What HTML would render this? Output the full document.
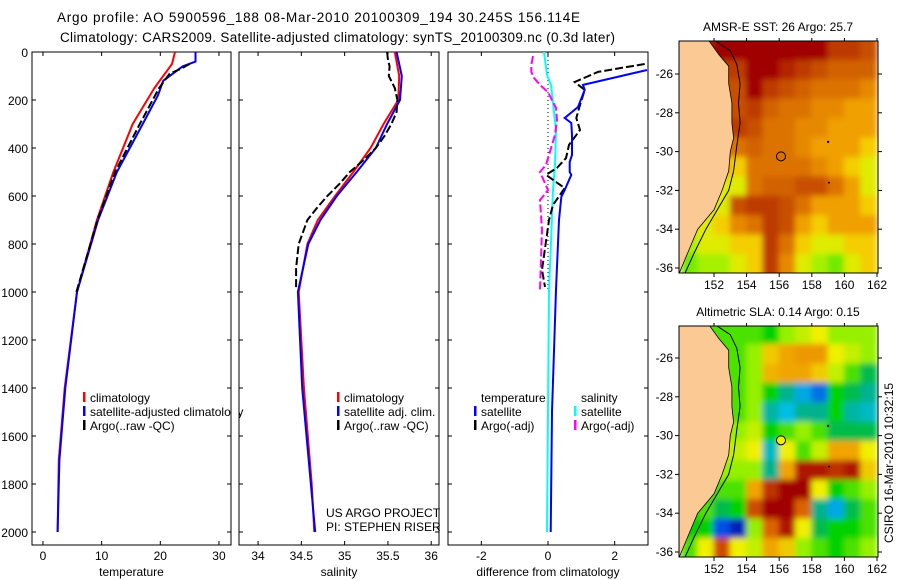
<!DOCTYPE html>
<html><head><meta charset="utf-8"><style>
html,body{margin:0;padding:0;background:#fff;}
svg{display:block;font-family:"Liberation Sans",sans-serif;}
</style></head><body>
<svg id="fig" width="900" height="580" viewBox="0 0 900 580" xmlns="http://www.w3.org/2000/svg">
<defs>
<filter id="blur" x="-5%" y="-5%" width="110%" height="110%"><feGaussianBlur stdDeviation="3"/></filter>
<clipPath id="clipM1"><rect x="679" y="41" width="199" height="232"/></clipPath>
<clipPath id="clipM2"><rect x="679" y="326" width="199" height="231"/></clipPath>
<clipPath id="clipP1"><rect x="32" y="52" width="199" height="493"/></clipPath>
<clipPath id="clipP2"><rect x="239" y="52" width="200" height="493"/></clipPath>
<clipPath id="clipP3"><rect x="448" y="52" width="200" height="493"/></clipPath>
</defs>
<text x="57" y="22" font-size="13.5" textLength="523">Argo profile: AO 5900596_188 08-Mar-2010 20100309_194 30.245S 156.114E</text>
<text x="60" y="42" font-size="13.5" textLength="555">Climatology: CARS2009. Satellite-adjusted climatology: synTS_20100309.nc (0.3d later)</text>
<g id="root"></g>
</svg>
<script>
// ---------- profile data ----------
const tempClimDepth = [0,50,150,300,500,700,1000,1400,1700,2000];
const tempClimVal   = [22.5,22,19,15.3,12,9.2,5.8,3.7,2.7,2.5];
const tempSatDepth  = [0,40,60,120,180,300,500,700,1000,1400,1700,2000];
const tempSatVal    = [26,26,23.8,20.5,19.6,17,12.6,9.4,5.8,3.8,2.8,2.5];
const tempArgoDepth = [50,70,90,150,300,500,700,1000];
const tempArgoVal   = [25,23.5,21.6,19.8,16.5,12.3,9.3,5.7];

const salClimDepth = [0,100,200,300,400,500,600,700,800,1000,1400,1800,2000];
const salClimVal   = [35.58,35.63,35.62,35.45,35.3,35.1,34.89,34.69,34.57,34.47,34.53,34.62,34.65];
const salSatDepth  = [0,100,200,300,400,500,600,700,800,1000,1400,2000];
const salSatVal    = [35.6,35.66,35.64,35.49,35.36,35.14,34.91,34.72,34.58,34.46,34.51,34.66];
const salArgoDepth = [0,30,60,100,150,200,250,300,350,400,450,500,550,600,650,700,800,900,990];
const salArgoVal   = [35.49,35.5,35.52,35.51,35.58,35.61,35.6,35.54,35.46,35.36,35.22,35.06,34.94,34.8,34.68,34.57,34.47,34.44,34.44];

const dTempSatDepth = [75,137,158,229,275,296,346,429,458,500,512,575,604,700,990,1500,2000];
const dTempSatVal   = [2.97,1.05,1.1,0.9,0.5,0.7,0.72,0.72,0.65,0.65,0.7,0.5,0.4,0.33,0.24,0.12,0.08];
const dTempArgoDepth = [50,83,125,158,221,275,325,387,442,483,512,567,637,700,908,979];
const dTempArgoVal   = [2.9,1.5,0.8,1.1,0.96,0.85,0.96,0.63,0.54,0.27,-0.06,0.5,0.15,0.03,-0.18,-0.09];
const dSalSatDepth = [0,96,137,325,470,575,825,990,1500,2000];
const dSalSatVal   = [-0.12,-0.03,0.09,0.24,0.21,0.15,0.08,0.03,0.0,-0.03];
const dSalArgoDepth = [17,54,83,108,137,167,233,283,346,470,500,575,617,742,990];
const dSalArgoVal   = [-0.45,-0.5,-0.5,-0.42,-0.24,0,0.24,0.27,0.21,-0.06,-0.24,0,-0.24,-0.18,-0.24];

const depthTicks = [0,200,400,600,800,1000,1200,1400,1600,1800,2000];
const tempTicks = [0,10,20,30];
const salTicks = [34,34.5,35,35.5,36];
const diffTicks = [-2,0,2];

// ---------- map data (rows: lat -24.8 .. -35.8, cols: lon 150.5 .. 161.5) ----------
const mapLons = [150.5,151.5,152.5,153.5,154.5,155.5,156.5,157.5,158.5,159.5,160.5,161.5];
const mapLats = [-24.8,-25.8,-26.8,-27.8,-28.8,-29.8,-30.8,-31.8,-32.8,-33.8,-34.8,-35.8];
const sstGrid = [
 [0.9,0.9,1,1,1,1,1,1,1,0.85,0.85,0.8],
 [0.85,0.85,0.85,0.85,1,1,0.9,0.85,0.8,0.75,0.75,0.75],
 [0.8,0.8,0.8,0.8,1,0.85,0.8,0.75,0.7,0.7,0.7,0.65],
 [0.8,0.8,0.8,0.8,0.85,0.75,0.7,0.7,0.65,0.65,0.6,0.6],
 [0.85,0.85,0.85,0.85,0.8,0.7,0.7,0.65,0.65,0.6,0.6,0.6],
 [0.7,0.7,0.7,0.7,0.75,0.7,0.7,0.65,0.6,0.6,0.6,0.55],
 [0.6,0.6,0.6,0.55,0.7,0.7,0.7,0.7,0.65,0.6,0.55,0.5],
 [0.5,0.5,0.5,0.5,0.7,0.75,0.75,0.8,0.8,0.7,0.6,0.5],
 [0.5,0.5,0.5,0.8,0.85,0.85,0.8,0.7,0.6,0.6,0.6,0.55],
 [0.5,0.5,0.55,0.65,0.7,0.85,0.8,0.6,0.55,0.6,0.6,0.6],
 [0.45,0.5,0.5,0.55,0.55,0.85,0.7,0.55,0.5,0.5,0.55,0.55],
 [0.42,0.45,0.45,0.5,0.55,0.85,0.65,0.5,0.45,0.42,0.5,0.55]
];
const slaGrid = [
 [0.45,0.45,0.45,0.45,0.45,0.4,0.5,0.55,0.6,0.5,0.5,0.5],
 [0.45,0.45,0.45,0.45,0.5,0.65,0.7,0.72,0.72,0.6,0.55,0.5],
 [0.45,0.45,0.45,0.45,0.5,0.68,0.7,0.7,0.65,0.55,0.45,0.35],
 [0.45,0.45,0.45,0.45,0.5,0.4,0.3,0.2,0.15,0.4,0.35,0.3],
 [0.45,0.45,0.45,0.45,0.5,0.28,0.22,0.3,0.3,0.4,0.28,0.25],
 [0.5,0.5,0.5,0.5,0.55,0.4,0.45,0.5,0.45,0.35,0.35,0.35],
 [0.55,0.55,0.55,0.55,0.6,0.25,0.6,0.45,0.55,0.7,0.7,0.6],
 [0.5,0.5,0.5,0.5,0.5,0.3,0.7,0.95,0.95,0.9,0.95,0.65],
 [0.45,0.45,0.45,0.45,0.7,0.9,1,1,0.6,0.4,0.45,0.5],
 [0.4,0.45,0.35,0.4,0.85,1,1,0.8,0.3,0.2,0.35,0.45],
 [0.4,0.4,0.12,0.05,0.5,0.8,0.95,0.6,0.35,0.4,0.4,0.45],
 [0.45,0.6,0.85,0.6,0.55,0.7,0.65,0.5,0.45,0.4,0.45,0.5]
];
const coastLon = [149.5,151.7,152.3,152.9,152.9,153.1,153.1,153.2,153.0,152.9,152.5,152.0,151.3,151.0,150.5,150.0,149.85,149.5];
const coastLat = [-24.3,-24.3,-25,-25.6,-26.5,-27.5,-28.5,-29.3,-30,-31,-32,-33,-33.7,-34,-35,-36,-36.3,-36.3];
const isoLon = [152.1,153.0,153.4,153.6,153.5,153.6,153.4,153.2,152.9,152.2,151.5,150.8,150.2];
const isoLat = [-24.3,-24.8,-25.5,-26.5,-27.5,-28.5,-29.7,-31,-32,-33,-34,-35.2,-36.3];
const argoLon = 156.11, argoLat = -30.245;
const lonTicks = [152,154,156,158,160,162];
const latTicks = [-26,-28,-30,-32,-34,-36];

// ---------- helpers ----------
const NS = "http://www.w3.org/2000/svg";
const root = document.getElementById('root');
function mk(tag, attrs, parent){ const e=document.createElementNS(NS,tag); for(const k in attrs) e.setAttribute(k,attrs[k]); (parent||root).appendChild(e); return e; }
function txt(x,y,s,size,anchor,parent){ const t=mk('text',{x:x,y:y,'font-size':size||12,'text-anchor':anchor||'start'},parent); t.textContent=s; return t; }

const yDepth = d => 52 + d*0.24;
const panels = [
 {x0:32,x1:231,vmin:-1.87,vmax:32.05,ticks:tempTicks,label:'temperature',clip:'clipP1',name:'temperature-panel'},
 {x0:239,x1:439,vmin:33.78,vmax:36.09,ticks:salTicks,label:'salinity',clip:'clipP2',name:'salinity-panel'},
 {x0:448,x1:648,vmin:-3.0,vmax:3.0,ticks:diffTicks,label:'difference from climatology',clip:'clipP3',name:'difference-panel'}
];
function xf(p,v){ return p.x0 + (v-p.vmin)/(p.vmax-p.vmin)*(p.x1-p.x0); }

panels.forEach((p,i)=>{
  const g = mk('g',{});
  
  
  mk('rect',{x:p.x0,y:52,width:p.x1-p.x0,height:493,fill:'none',stroke:'#000','stroke-width':1},g);
  depthTicks.forEach(d=>{
    const y=yDepth(d);
    mk('line',{x1:p.x0,x2:p.x0+4,y1:y,y2:y,stroke:'#000'},g);
    mk('line',{x1:p.x1,x2:p.x1-4,y1:y,y2:y,stroke:'#000'},g);
    if(i===0){ const t=txt(p.x0-4,y+5,String(d),12,'end',g);
      
       }
  });
  p.ticks.forEach(v=>{
    const x=xf(p,v);
    mk('line',{x1:x,x2:x,y1:545,y2:541,stroke:'#000'},g);
    mk('line',{x1:x,x2:x,y1:52,y2:56,stroke:'#000'},g);
    const t=txt(x,560,String(v),12,'middle',g);
    
    
  });
  const xl=txt((p.x0+p.x1)/2,576,p.label,12,'middle',g);
  
  
});

function series(p,depths,vals,color,dash,name,w){
  const pts=depths.map((d,k)=>xf(p,vals[k]).toFixed(1)+','+yDepth(d).toFixed(1)).join(' ');
  const l=mk('polyline',{points:pts,fill:'none',stroke:color,'stroke-width':w||2,'clip-path':'url(#'+p.clip+')'});
  if(dash) l.setAttribute('stroke-dasharray',dash);
  
  
}
const zl=mk('line',{x1:xf(panels[2],0),x2:xf(panels[2],0),y1:52,y2:yDepth(1000),stroke:'#000','stroke-width':1,'stroke-dasharray':'1,3'});



series(panels[0],tempClimDepth,tempClimVal,'#ff0000',null,'temperature-climatology-line');
series(panels[0],tempSatDepth,tempSatVal,'#0000ff',null,'temperature-satellite-line');
series(panels[0],tempArgoDepth,tempArgoVal,'#000000','8,3','temperature-argo-line');
series(panels[1],salClimDepth,salClimVal,'#ff0000',null,'salinity-climatology-line');
series(panels[1],salSatDepth,salSatVal,'#0000ff',null,'salinity-satellite-line');
series(panels[1],salArgoDepth,salArgoVal,'#000000','8,3','salinity-argo-line');
series(panels[2],dSalSatDepth,dSalSatVal,'#00ffff',null,'salinity-satellite-diff-line');
series(panels[2],dSalArgoDepth,dSalArgoVal,'#ff00ff','8,3','salinity-argo-diff-line');
series(panels[2],dTempArgoDepth,dTempArgoVal,'#000000','8,3','temperature-argo-diff-line');
series(panels[2],dTempSatDepth,dTempSatVal,'#0000ff',null,'temperature-satellite-diff-line');

function legendItem(x,y,color,label,name){
  const g=mk('g',{});
  
  
  if(color) mk('rect',{x:x,y:y-10,width:2.5,height:10,fill:color},g);
  txt(x+7,y,label,12,'start',g);
}
legendItem(83,402,'#ff0000','climatology','legend-climatology');
legendItem(83,416,'#0000ff','satellite-adjusted climatology','legend-satellite-adjusted');
legendItem(83,430,'#000000','Argo(..raw -QC)','legend-argo');
legendItem(337,402,'#ff0000','climatology','legend-sal-climatology');
legendItem(337,416,'#0000ff','satellite adj. clim.','legend-sal-satellite');
legendItem(337,430,'#000000','Argo(..raw -QC)','legend-sal-argo');
legendItem(474,402,null,'temperature','legend-temperature-heading');
legendItem(474,416,'#0000ff','satellite','legend-temp-satellite');
legendItem(474,430,'#000000','Argo(-adj)','legend-temp-argo');
legendItem(574,402,null,'salinity','legend-salinity-heading');
legendItem(574,416,'#00ffff','satellite','legend-sal-satellite-diff');
legendItem(574,430,'#ff00ff','Argo(-adj)','legend-sal-argo-diff');
mk('rect',{x:231.5,y:405,width:7,height:14,fill:'#fff'});
mk('line',{x1:231,x2:231,y1:400,y2:420,stroke:'#000'});
const c1=txt(326,517,'US ARGO PROJECT',12,'start');  
const c2=txt(326,531,'PI: STEPHEN RISER',12,'start');  

// ---------- maps ----------
function lerpColor(stops,v){
  v=Math.max(0,Math.min(1,v));
  for(let i=1;i<stops.length;i++){ if(v<=stops[i][0]){ const a=stops[i-1],b=stops[i],t=(v-a[0])/(b[0]-a[0]);
    const c=[0,1,2].map(k=>Math.round(a[1][k]+(b[1][k]-a[1][k])*t)); return 'rgb('+c.join(',')+')'; } }
  return 'rgb('+stops[stops.length-1][1].join(',')+')';
}
const cmap=[[0,[0,0,150]],[0.12,[0,80,230]],[0.22,[0,190,230]],[0.32,[0,175,120]],[0.4,[0,210,0]],[0.5,[150,240,0]],[0.6,[240,240,0]],[0.7,[240,165,0]],[0.8,[220,100,0]],[0.9,[190,50,0]],[1,[160,0,0]]];
const sstCmap=[[0,[0,0,150]],[0.3,[0,200,40]],[0.4,[80,230,0]],[0.47,[200,245,0]],[0.53,[245,225,0]],[0.6,[240,160,0]],[0.7,[220,115,0]],[0.8,[200,80,0]],[0.9,[180,35,0]],[1,[160,0,0]]];

function drawMap(top,bot,y26,clip,grid,cm,title,name,circFill){
  const g=mk('g',{});
  
  
  const lx = lon => 714 + (lon-152)*16.3;
  const ly = lat => y26 + (-26-lat)*19.4;
  const hg=mk('g',{'clip-path':'url(#'+clip+')'},g);
  const hb=mk('g',{filter:'url(#blur)'},hg);
  mapLats.forEach((lat,r)=>mapLons.forEach((lon,c)=>{
    const cell=mk('rect',{x:lx(lon-0.5)-0.5,y:ly(lat+0.5)-0.5,width:17.3,height:20.4,fill:lerpColor(cm,grid[r][c])},hb);
    
    
  }));
  mapLons.forEach((lon,c)=>{ mk('rect',{x:lx(lon-0.5)-0.5,y:ly(-23.3),width:17.3,height:20,fill:lerpColor(cm,grid[0][c])},hb); });
  mapLons.forEach((lon,c)=>{ mk('rect',{x:lx(lon-0.5)-0.5,y:ly(-36.3),width:17.3,height:20,fill:lerpColor(cm,grid[11][c])},hb); });
  const land=mk('polygon',{points:coastLon.map((l,k)=>lx(l).toFixed(1)+','+ly(coastLat[k]).toFixed(1)).join(' '),fill:'#fbc994',stroke:'#000','stroke-width':0.8},hg);
  
  
  mk('polyline',{points:isoLon.map((l,k)=>lx(l).toFixed(1)+','+ly(isoLat[k]).toFixed(1)).join(' '),fill:'none',stroke:'#000','stroke-width':1},hg);
  mk('circle',{cx:lx(159),cy:ly(-29.5),r:1.2,fill:'#000'},hg);
  mk('circle',{cx:lx(159.05),cy:ly(-31.6),r:1,fill:'#000'},hg);
  const ci=mk('circle',{cx:lx(argoLon),cy:ly(argoLat),r:4.5,fill:circFill,stroke:'#000','stroke-width':1},hg);
  
  
  mk('rect',{x:679,y:top,width:199,height:bot-top,fill:'none',stroke:'#000'},g);
  lonTicks.forEach(l=>{ const x=lx(l); mk('line',{x1:x,x2:x,y1:bot,y2:bot+4,stroke:'#000'},g); mk('line',{x1:x,x2:x,y1:top,y2:top-3,stroke:'#000'},g);
    const t=txt(x,bot+16,String(l),12,'middle',g);   });
  latTicks.forEach(l=>{ const y=ly(l); mk('line',{x1:679,x2:675,y1:y,y2:y,stroke:'#000'},g); mk('line',{x1:878,x2:882,y1:y,y2:y,stroke:'#000'},g);
    const t=txt(673,y+4,String(l),12,'end',g);   });
  const tt=txt(778,top-10,title,12,'middle',g);
  
  
}
drawMap(41,273,74,'clipM1',sstGrid,sstCmap,'AMSR-E SST: 26 Argo: 25.7','sst-map','none');
drawMap(326,557,358,'clipM2',slaGrid,cmap,'Altimetric SLA: 0.14 Argo: 0.15','sla-map','#f0f000');
const stamp=txt(0,0,'CSIRO 16-Mar-2010 10:32:15',12,'middle');
stamp.setAttribute('transform','translate(893,463) rotate(-90)');


</script>
</body></html>
